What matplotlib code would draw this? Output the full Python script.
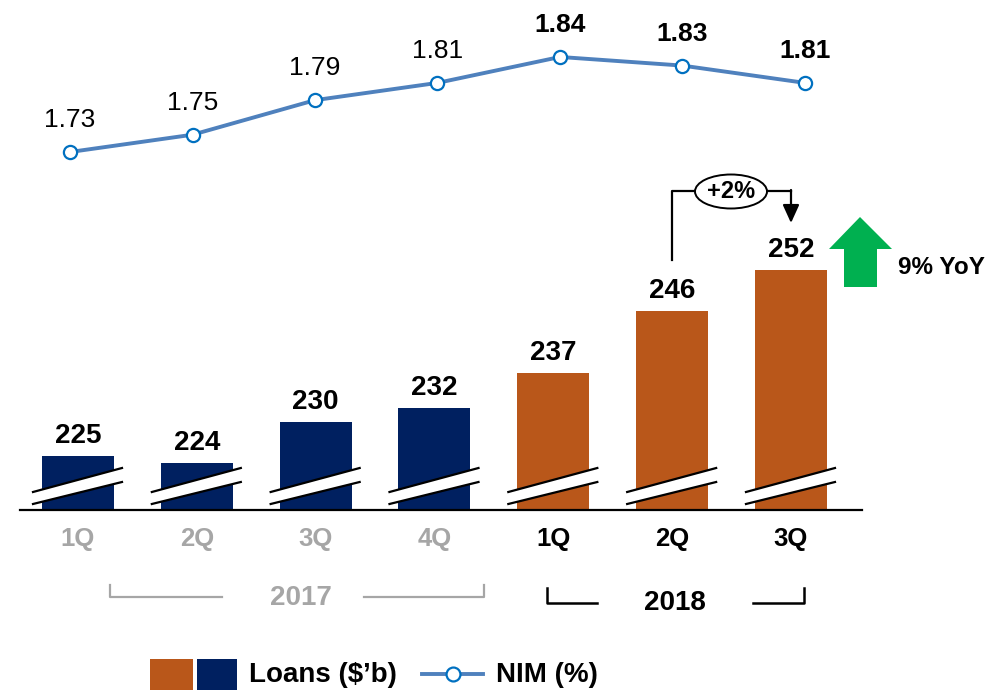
import numpy as np
import matplotlib
matplotlib.use('Agg')
import matplotlib.pyplot as plt
from matplotlib.patches import Rectangle, Polygon, Ellipse
from matplotlib.lines import Line2D

plt.rcParams['font.family'] = ['Liberation Sans', 'DejaVu Sans']

quarters = ['1Q', '2Q', '3Q', '4Q', '1Q', '2Q', '3Q']
years = [2017, 2017, 2017, 2017, 2018, 2018, 2018]
loans = [225, 224, 230, 232, 237, 246, 252]
nim = [1.73, 1.75, 1.79, 1.81, 1.84, 1.83, 1.81]
qoq_label = '+2%'
yoy_label = '9% YoY'

ORANGE = '#B9571A'
NAVY = '#002060'
LINE = '#4F81BD'
MARKER_EDGE = '#0070C0'
GRAY = '#A6A6A6'
GREEN = '#00B050'

W, H = 989, 691
fig = plt.figure(figsize=(W / 100, H / 100), dpi=100)

# axes placed by pixel box: x 20..862, y 0..510 from top
AX_L, AX_R, AX_B = 20, 862, 510
rect = [AX_L / W, (H - AX_B) / H, (AX_R - AX_L) / W, AX_B / H]
ax = fig.add_axes(rect)
# the NIM line sits on its own, slightly wider, horizontal scale
ax2 = fig.add_axes(rect, sharey=None)
ax2.patch.set_visible(False)

x = np.arange(len(quarters))
step = 118.83  # px per category (bars)
ax.set_xlim((AX_L - 78) / step, (AX_R - 78) / step)
line_step = 122.5  # px per category (line)
ax2.set_xlim((AX_L - 70) / line_step, (AX_R - 70) / line_step)

px_per_loan = 6.9
ax.set_ylim(217.2, 217.2 + AX_B / px_per_loan)
px_per_nim = 864
nim_bottom = 1.73 - (AX_B - 152) / px_per_nim
ax2.set_ylim(nim_bottom, nim_bottom + AX_B / px_per_nim)


def px_x(px):
    return (px - 78) / step


def px_y(py):
    # pixel from top -> axes fraction
    return (AX_B - py) / AX_B


bar_colors = [NAVY if y == 2017 else ORANGE for y in years]
ax.bar(x, loans, width=72 / step, color=bar_colors, zorder=2)

# axis-break stripes across each bar
for i in x:
    dxl, dxr = -45 / step, 44 / step
    up_l, up_r = 217.2 + (510 - 492) / px_per_loan, 217.2 + (510 - 468) / px_per_loan
    lo_l, lo_r = 217.2 + (510 - 504) / px_per_loan, 217.2 + (510 - 482) / px_per_loan
    ax.add_patch(Polygon([(i + dxl, up_l), (i + dxr, up_r), (i + dxr, lo_r), (i + dxl, lo_l)],
                         closed=True, facecolor='white', edgecolor='none', zorder=3, clip_on=False))
    ax.plot([i + dxl, i + dxr], [up_l, up_r], color='black', lw=1.6, zorder=4, clip_on=False)
    ax.plot([i + dxl, i + dxr], [lo_l, lo_r], color='black', lw=1.6, zorder=4, clip_on=False)

for i, v in zip(x, loans):
    ax.annotate(str(v), (i, v), xytext=(0, 14.5), textcoords='offset points',
                ha='center', va='center', fontsize=20, fontweight='bold')

ax2.plot(x, nim, color=LINE, lw=2.8, marker='o', ms=9.5, mfc='white',
         mec=MARKER_EDGE, mew=1.6, zorder=5, clip_on=False)
for i, v, yr in zip(x, nim, years):
    ax2.annotate(f'{v:.2f}', (i, v), xytext=(0, 23), textcoords='offset points',
                 ha='center', va='center', fontsize=19,
                 fontweight='bold' if yr == 2018 else 'normal')

for a in (ax, ax2):
    for s in ('top', 'right', 'left'):
        a.spines[s].set_visible(False)
    a.set_yticks([])
ax2.spines['bottom'].set_visible(False)
ax2.set_xticks([])
ax.spines['bottom'].set_linewidth(1.6)
ax.spines['bottom'].set_zorder(6)

ax.set_xticks(x, quarters)
ax.tick_params(axis='x', length=0, pad=12)
for lbl, yr in zip(ax.get_xticklabels(), years):
    lbl.set_fontsize(18.5)
    lbl.set_fontweight('bold')
    lbl.set_color(GRAY if yr == 2017 else 'black')

# year brackets
tr = ax.get_xaxis_transform()
ax.plot([px_x(110), px_x(110), px_x(222)], [px_y(585), px_y(597), px_y(597)],
        color=GRAY, lw=1.6, transform=tr, clip_on=False)
ax.plot([px_x(364), px_x(484), px_x(484)], [px_y(597), px_y(597), px_y(585)],
        color=GRAY, lw=1.6, transform=tr, clip_on=False)
ax.text(px_x(301), px_y(598), '2017', transform=tr, ha='center', va='center',
        fontsize=20, fontweight='bold', color=GRAY)
ax.plot([px_x(547), px_x(547), px_x(597)], [px_y(588), px_y(603), px_y(603)],
        color='black', lw=1.8, transform=tr, clip_on=False)
ax.plot([px_x(753), px_x(804), px_x(804)], [px_y(603), px_y(603), px_y(588)],
        color='black', lw=1.8, transform=tr, clip_on=False)
ax.text(px_x(675), px_y(603), '2018', transform=tr, ha='center', va='center',
        fontsize=20, fontweight='bold', color='black')

# quarter-on-quarter callout
ax.plot([px_x(672), px_x(672), px_x(695)], [px_y(260), px_y(191), px_y(191)],
        color='black', lw=1.6, transform=tr, clip_on=False)
ax.plot([px_x(767), px_x(791)], [px_y(191), px_y(191)],
        color='black', lw=1.6, transform=tr, clip_on=False)
ax.annotate('', xy=(px_x(791), px_y(223)), xytext=(px_x(791), px_y(190)),
            xycoords=tr, textcoords=tr,
            arrowprops=dict(arrowstyle='-|>,head_length=1.1,head_width=0.5', color='black',
                            lw=1.6, shrinkA=0, shrinkB=0, mutation_scale=10))
ax.add_patch(Ellipse((px_x(731), px_y(191.5)), 72 / step, 34 / AX_B, transform=tr,
                     facecolor='white', edgecolor='black', lw=1.4, clip_on=False, zorder=5))
ax.text(px_x(731), px_y(191.5), qoq_label, transform=tr, ha='center', va='center',
        fontsize=17, fontweight='bold', zorder=6)

# YoY arrow
arrow_px = [(860, 217), (892, 249), (877, 249), (877, 287), (844, 287), (844, 249), (829, 249)]
ax.add_patch(Polygon([(px_x(a), px_y(b)) for a, b in arrow_px], closed=True, transform=tr,
                     facecolor=GREEN, edgecolor='none', clip_on=False))
ax.text(px_x(898), px_y(267), yoy_label, transform=tr, ha='left', va='center',
        fontsize=17.5, fontweight='bold')

# legend drawn by hand
fy = lambda py: 1 - py / H
fig.add_artist(Rectangle((150 / W, fy(690)), 43 / W, 31 / H, transform=fig.transFigure,
                         facecolor=ORANGE, edgecolor='none'))
fig.add_artist(Rectangle((197 / W, fy(690)), 40 / W, 31 / H, transform=fig.transFigure,
                         facecolor=NAVY, edgecolor='none'))
fig.text(249 / W, fy(675), "Loans ($\u2019b)", ha='left', va='center',
         fontsize=20, fontweight='bold')
fig.add_artist(Line2D([422 / W, 483 / W], [fy(674), fy(674)], transform=fig.transFigure,
                      color=LINE, lw=2.8))
fig.add_artist(Line2D([453 / W], [fy(674)], transform=fig.transFigure, marker='o', ms=10,
                      mfc='white', mec=MARKER_EDGE, mew=1.6, color=LINE))
fig.text(496 / W, fy(675), 'NIM (%)', ha='left', va='center', fontsize=20, fontweight='bold')

fig.savefig('out.png', dpi=100)
